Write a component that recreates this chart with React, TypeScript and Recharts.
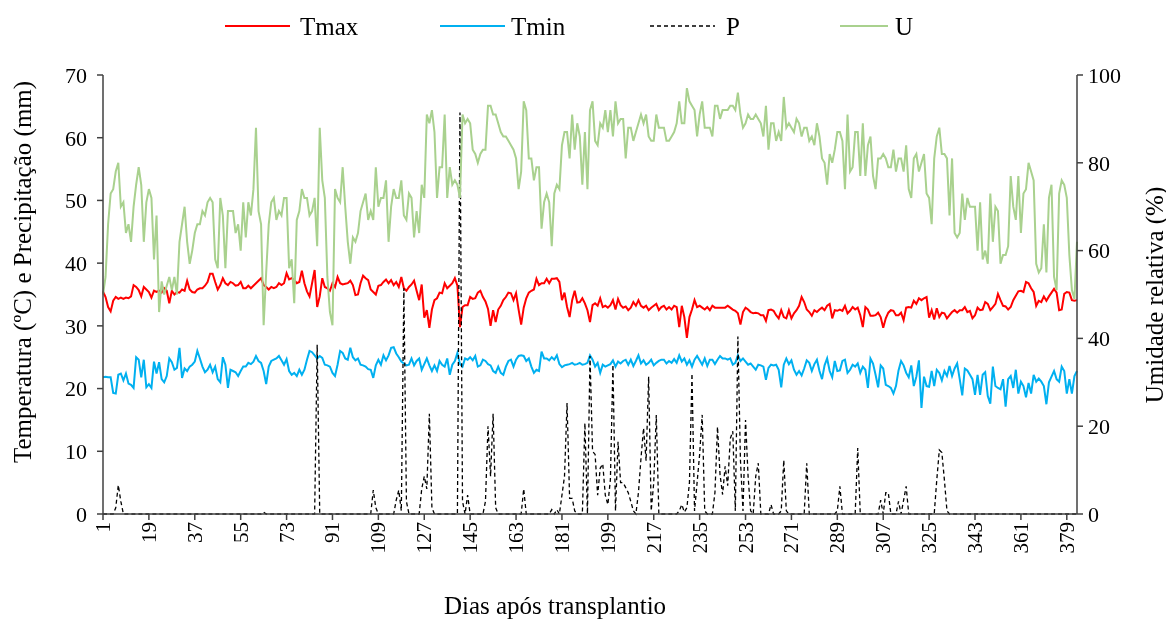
import { LineChart, Line, XAxis, YAxis, Label } from 'recharts';

// daily values, day 1..383 (rows of 10 days)
const TMAX = [
  35.5, 34.6, 33, 32.3, 34, 34.6, 34.3, 34.5, 34.3, 34.5,
  34.4, 34.7, 36.5, 36.2, 35.7, 34.7, 36.2, 35.8, 35.4, 34.5,
  35.6, 35.4, 35.6, 35.3, 36, 35.6, 33.6, 35.6, 35, 35.4,
  35.3, 35.8, 35.6, 37.2, 35.8, 35.4, 35.3, 35.8, 36, 36,
  36.4, 37, 38.3, 38.3, 37, 35.8, 36.5, 37.6, 36.8, 36.5,
  37, 36.8, 36.4, 36.5, 37, 36, 36, 36.4, 36, 36.4,
  36.8, 37.2, 37.6, 36.5, 36.2, 35.8, 36.2, 36, 36.2, 36.8,
  36.5, 36.8, 38.4, 37.4, 37.6, 37.3, 36.8, 37, 38.8, 36.8,
  35.5, 34.7, 36.8, 38.9, 33, 34.7, 37.6, 36.2, 36, 35.6,
  36.8, 36.2, 37.8, 36.8, 36.6, 36.7, 36.8, 37.2, 36.5, 34.9,
  35, 36.8, 38, 37.6, 37.3, 35.8, 35.4, 35, 36.4, 36.5,
  37, 37.4, 36.8, 37.3, 36.5, 37, 36.2, 37.8, 36, 35.6,
  36.2, 36.6, 37.2, 35.6, 34.1, 36.6, 31.3, 32.5, 29.7, 32.6,
  34.1, 34.4, 35.3, 35.2, 36.8, 36, 36.4, 36.8, 37.6, 36.4,
  29.8, 33, 33.3, 33.3, 34.6, 34.3, 34.4, 35.3, 35.6, 34.6,
  33.9, 32.7, 30, 32.5, 30.6, 32.6, 33.2, 34.1, 34.6, 35.3,
  35.2, 34.1, 35.2, 32.6, 30.2, 32.9, 34.4, 35.3, 35.6, 35.8,
  37.5, 36.5, 36.8, 36.8, 37.5, 36.8, 37.5, 37.5, 37.6, 37,
  34.1, 35.3, 33, 31.4, 34.1, 35.6, 33.7, 33.8, 34.4, 33.6,
  32.5, 30.6, 33.3, 33.6, 33.2, 34.4, 33, 33.2, 32.9, 33.3,
  34.1, 32.6, 34.3, 33.3, 32.9, 33.1, 32.5, 32.9, 33.8, 33.2,
  34.1, 33.2, 32.9, 33.2, 32.5, 32.9, 33.2, 33.5, 32.5, 33,
  33.2, 32.6, 33, 32.6, 33.2, 33, 29.8, 33.2, 31.4, 28.1,
  31.4, 32.6, 34.1, 33, 33.2, 32.9, 32.6, 33, 32.5, 33.2,
  32.9, 32.9, 32.9, 32.9, 32.9, 33.2, 32.9, 32.6, 32.4, 32,
  30.2, 32.2, 32.9, 32.6, 32.2, 32, 32.1, 32, 31.7, 31.7,
  30.8, 32.5, 32.6, 32.4, 31.7, 31.2, 32.5, 31.4, 31.2, 32.5,
  31.2, 32, 32.5, 33.2, 34.6, 33.8, 32.6, 32.2, 31.6, 32.5,
  32.2, 32.6, 32.9, 32.5, 33.2, 33.5, 31.2, 32.5, 32.4, 32.6,
  32.4, 33.2, 32, 32.4, 33, 32.6, 32.9, 31.7, 29.8, 33,
  32.6, 31.6, 31.6, 31.7, 32.1, 31.4, 29.7, 31.2, 32.1, 32.5,
  32.4, 31.7, 31.7, 32.1, 30.9, 32.9, 33, 32.9, 34, 33.5,
  34.4, 34.1, 34.4, 34.6, 31.3, 32.5, 31, 32.8, 31.4, 32.1,
  32, 31.2, 31.7, 32.2, 32.5, 32.1, 32.5, 32.5, 33, 32.2,
  32.4, 31.2, 31.7, 32.9, 32.5, 32.6, 33.8, 33.5, 32.5, 33,
  33.5, 35.1, 34.1, 33.2, 33.1, 32.6, 33, 34.1, 34.8, 35.5,
  35.6, 35.4, 37, 36.8, 36, 35.4, 33.2, 34, 33.8, 34.7,
  34, 34.7, 35.3, 35.9, 35.3, 32.5, 32.6, 35.1, 35.4, 35.3,
  34.1, 34, 34.1,
];

const TMIN = [
  21.8, 21.9, 21.8, 21.8, 19.3, 19.2, 22.2, 22.4, 21.3, 22.4,
  20.8, 20.6, 20.1, 25, 24.6, 21.8, 24.6, 20.2, 20.7, 20.1,
  24.3, 22.4, 24.2, 21.5, 21, 22, 24.8, 24.2, 23, 23.3,
  26.5, 21.7, 23.2, 22.8, 23.5, 23.8, 24.3, 26, 24.8, 23.5,
  22.6, 23, 23.8, 22.6, 23.5, 21.5, 21, 25, 23.8, 20.1,
  23, 22.8, 22.6, 22, 22.8, 23.5, 23.5, 24.1, 23.9, 24.3,
  25.2, 24.4, 24.1, 22.8, 20.7, 23.5, 24.4, 24.6, 24.8, 25.2,
  24.5, 23.8, 24.7, 22.8, 22.2, 22.5, 22, 23, 22.2, 23,
  24.6, 26, 25.8, 25.3, 24.8, 25.2, 24.9, 23.8, 23.7, 23.5,
  22.5, 22, 23.8, 26, 25.7, 24.8, 24.6, 26.5, 25, 24.5,
  24.8, 23.8, 23.7, 23.5, 23.1, 23, 21.7, 23.7, 24.6, 23.8,
  25.3, 24.5, 25.3, 26.5, 26.6, 25.6, 25, 24.3, 24, 23.7,
  23.8, 24.8, 23.7, 24.4, 24.8, 23, 23.9, 24.8, 23.7, 22.8,
  23.7, 22.8, 24.4, 23.8, 23.5, 24.8, 22.2, 23.8, 24.4, 25.7,
  23.9, 23.5, 24.8, 24.6, 25, 24.5, 25.2, 23.5, 23.7, 24.6,
  24.4, 23.9, 23.7, 22.8, 22.5, 23.5, 22.5, 22.2, 23.5, 24.4,
  24.6, 23.5, 24.6, 25.2, 25.3, 25.2, 24.4, 24.8, 23.5, 22.5,
  23, 22.8, 25.9, 24.8, 24.8, 24.5, 25, 24.6, 25.3, 23.9,
  23.4, 23.7, 23.8, 23.9, 24.1, 23.8, 23.9, 24.1, 23.8, 23.9,
  24.1, 25.3, 24.6, 23.5, 24.1, 22.5, 23.8, 23.5, 23.7, 23.9,
  24.5, 23.5, 24.3, 24, 24.4, 24.6, 23.8, 24.6, 23.6, 24.4,
  25.3, 24, 24.5, 23.8, 24.1, 24.6, 23.7, 24.1, 24.4, 24.6,
  24.6, 24, 24.4, 24.1, 24.7, 24.1, 25.3, 24.3, 24.8, 23.8,
  24.5, 23.5, 24.6, 25.2, 24.5, 23.8, 24.8, 23.6, 24.6, 24.6,
  23.9, 24.6, 25.2, 24.8, 24.8, 24.6, 24.8, 23.8, 24.1, 25.3,
  24.4, 24.8, 24.3, 23.8, 24, 23.5, 23, 23.8, 23.7, 23.5,
  21.4, 23.3, 23.8, 23.7, 23.8, 23, 20.2, 23.8, 24.8, 23.9,
  24.5, 23, 22.2, 22.8, 22.1, 23.2, 24.5, 24.1, 22.8, 23.9,
  24.6, 22.8, 21.5, 23.7, 24.8, 22.8, 21.8, 24.4, 22.8, 22.9,
  24.4, 24.6, 22.5, 23, 23.8, 23.5, 24, 22.5, 23.5, 23,
  20.1, 24.8, 24, 22.2, 20.2, 23.7, 23.2, 20.6, 20.4, 20.1,
  19.2, 20.4, 22.9, 24.4, 23.7, 22.5, 21.8, 23.7, 20.4, 21.9,
  24.5, 16.9, 21.9, 20.4, 20.3, 22.8, 20.4, 23, 22.5, 21.3,
  22.8, 22, 23.6, 22, 23.2, 24, 21.5, 18.9, 23.2, 22.9,
  22.2, 21.5, 19, 22.2, 19, 22.2, 22.6, 18.8, 17.6, 23.5,
  20.4, 20.1, 19.9, 21.5, 17.1, 21.5, 22, 20.1, 23, 19.2,
  21.1, 20.4, 18.6, 20.9, 19.2, 22.2, 21.1, 21.6, 21.1, 20.4,
  17.5, 21, 21.9, 22.8, 21.5, 21.1, 23.5, 22.8, 19.2, 21.5,
  19.2, 22, 22.8,
];

const PREC = [
  0, 0, 0, 0, 0, 1, 4.6, 2, 0, 0,
  0, 0, 0, 0, 0, 0, 0, 0, 0, 0,
  0, 0, 0, 0, 0, 0, 0, 0, 0, 0,
  0, 0, 0, 0, 0, 0, 0, 0, 0, 0,
  0, 0, 0, 0, 0, 0, 0, 0, 0, 0,
  0, 0, 0, 0, 0, 0, 0, 0, 0, 0,
  0, 0, 0, 0.3, 0, 0, 0, 0, 0, 0,
  0, 0, 0, 0, 0, 0, 0, 0, 0, 0,
  0, 0, 0, 0, 27, 0, 0, 0, 0, 0,
  0, 0, 0, 0, 0, 0, 0, 0, 0, 0,
  0, 0, 0, 0, 0, 0, 3.8, 1, 0, 0,
  0, 0, 0, 0, 0, 2.2, 3.8, 0.5, 36, 2,
  0, 0, 0, 0, 0, 4, 6, 4, 16, 1,
  0, 0, 0, 0, 0, 0, 0, 0, 0, 0,
  64, 2, 0, 3, 0, 0, 0, 0, 0, 0,
  2, 14, 6, 16, 1, 0, 0, 0, 0, 0,
  0, 0, 0, 0, 0, 4, 0, 0, 0, 0,
  0, 0, 0, 0, 0, 0, 0.7, 0, 0.7, 0,
  3, 6, 17.7, 2.5, 2.5, 0.5, 0, 0, 0, 14.5,
  0, 25.2, 10, 9.5, 3, 7.3, 8, 3, 1.5, 5.5,
  23.8, 0.5, 11.5, 5, 5, 4.2, 3.4, 2, 0.5, 0,
  3.4, 8.9, 13.7, 8.5, 21.9, 0.5, 5, 15.8, 0, 0,
  0, 0, 0, 0, 0, 0, 0.5, 1.5, 0.3, 1,
  5, 22.4, 0.5, 5, 9.5, 15.8, 0.5, 0, 0, 0,
  3.4, 13.9, 6.3, 3.1, 7.6, 4.5, 12, 13.2, 0.5, 28.3,
  8.6, 0.5, 15, 6, 0.5, 0, 6, 8.1, 0, 0,
  0, 0, 1.5, 0, 0, 0, 0.5, 8.6, 0.5, 0,
  0, 0, 0, 0, 0, 0, 8.1, 0, 0, 0,
  0, 0, 0, 0, 0, 0, 0, 0, 0.5, 4.4,
  0, 0, 0, 0, 0, 0, 10.5, 0, 0, 0,
  0, 0, 0, 0, 0, 2.2, 0, 3.4, 3.4, 0,
  0, 0, 2, 0, 2.2, 4.4, 0, 0, 0, 0,
  0, 0, 0, 0, 0, 0, 0, 5.4, 10.2, 9.8,
  5.4, 0.5, 0, 0, 0, 0, 0, 0, 0, 0,
  0, 0, 0, 0, 0, 0, 0, 0, 0, 0,
  0, 0, 0, 0, 0, 0, 0, 0, 0, 0,
  0, 0, 0, 0, 0, 0, 0, 0, 0, 0,
  0, 0, 0, 0, 0, 0, 0, 0, 0, 0,
  0, 0, 0,
];

const UMID = [
  50, 54, 66, 73, 74, 78, 80, 70, 71, 64,
  66, 62, 70, 75, 79, 75, 62, 71, 74, 72,
  58, 68, 46, 53, 50, 52, 54, 51, 54, 50,
  62, 66, 70, 62, 57, 60, 64, 66, 66, 69,
  68, 71, 72, 71, 58, 56, 72, 68, 56, 69,
  69, 69, 64, 66, 60, 71, 63, 71, 68, 74,
  88, 69, 66, 43, 55, 66, 71, 72, 67, 69,
  68, 72, 72, 56, 58, 48, 67, 69, 74, 72,
  72, 68, 69, 72, 61, 88, 76, 72, 54, 46,
  43, 74, 72, 71, 79, 70, 62, 57, 63, 62,
  64, 69, 71, 73, 67, 69, 67, 79, 70, 72,
  72, 76, 62, 70, 74, 72, 72, 76, 68, 67,
  73, 72, 63, 69, 64, 75, 72, 91, 89, 92,
  87, 72, 79, 79, 91, 72, 79, 75, 76, 75,
  72, 91, 89, 90, 89, 83, 82, 80, 82, 83,
  83, 93, 93, 91, 91, 89, 87, 86, 86, 85,
  84, 83, 81, 74, 78, 94, 92, 81, 81, 76,
  79, 79, 65, 71, 73, 71, 61, 73, 75, 74,
  84, 87, 87, 81, 91, 83, 89, 86, 75, 87,
  74, 92, 94, 85, 84, 89, 88, 92, 87, 92,
  86, 94, 89, 90, 90, 81, 88, 88, 85, 87,
  89, 91, 89, 91, 86, 85, 85, 91, 88, 88,
  88, 85, 85, 86, 87, 89, 94, 89, 89, 97,
  94, 93, 92, 86, 91, 94, 88, 88, 88, 86,
  93, 93, 90, 92, 92, 92, 93, 93, 92, 96,
  91, 88, 89, 91, 90, 90, 91, 90, 89, 86,
  93, 83, 89, 89, 85, 87, 85, 95, 88, 89,
  88, 87, 90, 89, 86, 88, 88, 85, 86, 84,
  89, 86, 81, 80, 75, 82, 80, 83, 87, 87,
  85, 74, 91, 78, 79, 87, 87, 77, 89, 77,
  84, 86, 77, 74, 81, 81, 82, 81, 79, 79,
  83, 78, 81, 81, 78, 84, 74, 72, 81, 82,
  78, 80, 82, 73, 72, 66, 81, 86, 88, 82,
  82, 81, 68, 81, 64, 63, 64, 73, 67, 72,
  70, 70, 70, 60, 71, 58, 60, 57, 73, 62,
  70, 69, 57, 59, 59, 61, 77, 70, 67, 77,
  64, 73, 74, 80, 78, 76, 57, 55, 56, 66,
  55, 72, 75, 54, 51, 73, 76, 75, 72, 59,
  51, 49, 62,
];

const DAY_TICKS = [1, 19, 37, 55, 73, 91, 109, 127, 145, 163, 181, 199, 217, 235, 253, 271, 289, 307, 325, 343, 361, 379];
const TEMP_TICKS = [0, 10, 20, 30, 40, 50, 60, 70];
const UMID_TICKS = [0, 20, 40, 60, 80, 100];

const FONT = '"Liberation Serif", "Times New Roman", serif';
const AXIS = '#404040';

const data = TMAX.map((tmax, i) => ({
  day: i + 1,
  tmax,
  tmin: TMIN[i],
  p: PREC[i],
  u: UMID[i],
}));

// legend sample positions (line start, line length, text start)
const LEGEND = [
  { name: 'Tmax', color: '#FF0000', dash: undefined, x: 217, w: 65, tx: 292 },
  { name: 'Tmin', color: '#00B0F0', dash: undefined, x: 432, w: 65, tx: 503 },
  { name: 'P', color: '#000000', dash: '4 3', x: 642, w: 65, tx: 718 },
  { name: 'U', color: '#A9D18E', dash: undefined, x: 832, w: 48, tx: 887 },
];

const DayTick = (props: any) => {
  const { x, y, payload } = props;
  return (
    <text
      x={x}
      y={y}
      transform={`rotate(-90 ${x} ${y})`}
      textAnchor="end"
      dominantBaseline="central"
      fontSize={21}
      fontFamily={FONT}
      fill="#000"
    >
      {payload.value}
    </text>
  );
};

const tickStyle = { fontSize: 22, fontFamily: FONT, fill: '#000' };

export default function App() {
  return (
    <div style={{ position: 'fixed', left: 8, top: 8, width: 1158, height: 611 }}>
      <LineChart
        width={1158}
        height={611}
        data={data}
        margin={{ top: 67, right: 39, bottom: 55, left: 35 }}
      >
        <XAxis
          dataKey="day"
          type="number"
          domain={[1, 383]}
          ticks={DAY_TICKS}
          interval={0}
          height={50}
          tick={<DayTick />}
          tickSize={6}
          stroke={AXIS}
          strokeWidth={1.5}
        >
          <Label
            content={() => (
              <text x={547} y={597} textAnchor="middle" dominantBaseline="central" fontSize={25} fontFamily={FONT} fill="#000">
                Dias após transplantio
              </text>
            )}
          />
        </XAxis>
        <YAxis
          yAxisId="t"
          domain={[0, 70]}
          ticks={TEMP_TICKS}
          width={60}
          tickSize={6}
          tickMargin={10}
          tick={tickStyle}
          stroke={AXIS}
          strokeWidth={1.5}
        >
          <Label
            content={() => (
              <text x={14} y={264} transform="rotate(-90 14 264)" textAnchor="middle" dominantBaseline="central" fontSize={25} fontFamily={FONT} fill="#000">
                Temperatura (ºC) e Precipitação (mm)
              </text>
            )}
          />
        </YAxis>
        <YAxis
          yAxisId="u"
          orientation="right"
          domain={[0, 100]}
          ticks={UMID_TICKS}
          width={50}
          tickSize={6}
          tickMargin={5}
          tick={tickStyle}
          stroke={AXIS}
          strokeWidth={1.5}
        >
          <Label
            content={() => (
              <text x={1146} y={287} transform="rotate(-90 1146 287)" textAnchor="middle" dominantBaseline="central" fontSize={25} fontFamily={FONT} fill="#000">
                Umidade relativa (%)
              </text>
            )}
          />
        </YAxis>
        <Line yAxisId="t" dataKey="tmax" stroke="#FF0000" strokeWidth={2} dot={false} isAnimationActive={false} />
        <Line yAxisId="t" dataKey="tmin" stroke="#00B0F0" strokeWidth={2} dot={false} isAnimationActive={false} />
        <Line yAxisId="t" dataKey="p" stroke="#000000" strokeWidth={1.3} strokeDasharray="4 3" dot={false} isAnimationActive={false} />
        <Line yAxisId="u" dataKey="u" stroke="#A9D18E" strokeWidth={2} dot={false} isAnimationActive={false} />
      </LineChart>
      <svg width={1158} height={40} style={{ position: 'absolute', left: 0, top: 0 }}>
        {LEGEND.map((item) => (
          <g key={item.name}>
            <line
              x1={item.x}
              x2={item.x + item.w}
              y1={18}
              y2={18}
              stroke={item.color}
              strokeWidth={item.dash ? 1.5 : 2}
              strokeDasharray={item.dash}
            />
            <text x={item.tx} y={18} dominantBaseline="central" fontSize={25} fontFamily={FONT} fill="#000">
              {item.name}
            </text>
          </g>
        ))}
      </svg>
    </div>
  );
}
